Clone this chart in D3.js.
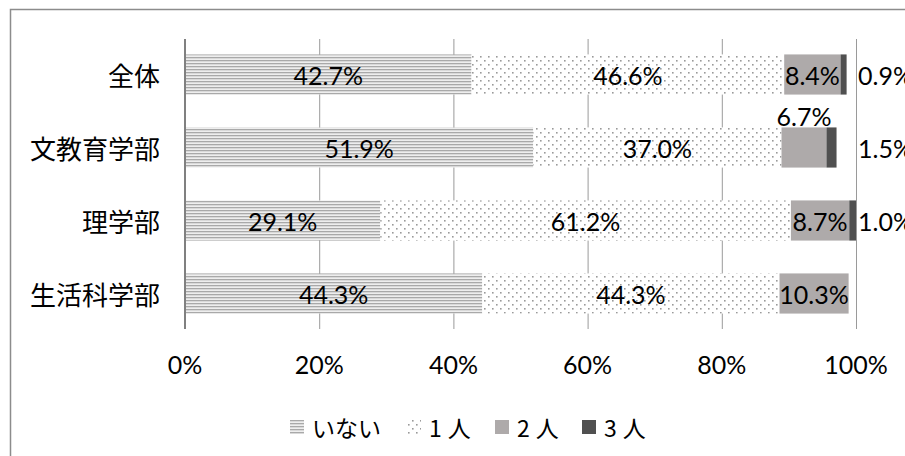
<!DOCTYPE html>
<html><head><meta charset="utf-8">
<script src="https://cdn.jsdelivr.net/npm/d3@7"></script>
<style>body{margin:0;background:#fff;}svg{display:block;}</style>
</head><body>
<svg id="c" width="905" height="456"></svg>
<script>
const categories = ["全体", "文教育学部", "理学部", "生活科学部"];
const seriesNames = ["いない", "1人", "2人", "3人"];
const none = [42.7, 51.9, 29.1, 44.3];
const one = [46.6, 37.0, 61.2, 44.3];
const two = [8.4, 6.7, 8.7, 10.3];
const three = [0.9, 1.5, 1.0, 0];
const tickValues = [0, 20, 40, 60, 80, 100];
const tickLabels = ["0%", "20%", "40%", "60%", "80%", "100%"];

const values = [none, one, two, three];
const svg = d3.select("#c");
const defs = svg.append("defs");
const p1 = defs.append("pattern").attr("id","pNone").attr("patternUnits","userSpaceOnUse").attr("width",6).attr("height",3);
p1.append("rect").attr("width",6).attr("height",3).attr("fill","#eeeeee");
p1.append("rect").attr("y",0).attr("width",6).attr("height",1.3).attr("fill","#a9a9a9");
const p2 = defs.append("pattern").attr("id","pOne").attr("patternUnits","userSpaceOnUse").attr("width",8).attr("height",8);
p2.append("rect").attr("width",8).attr("height",8).attr("fill","#ffffff");
p2.append("rect").attr("x",0).attr("y",0).attr("width",1.6).attr("height",1.6).attr("fill","#9a9a9a");
p2.append("rect").attr("x",4).attr("y",4).attr("width",1.6).attr("height",1.6).attr("fill","#9a9a9a");
const fills = ["url(#pNone)", "url(#pOne)", "#aeaaaa", "#505050"];

svg.append("rect").attr("x",10.5).attr("y",9.5).attr("width",1000).attr("height",1000)
  .attr("fill","none").attr("stroke","#8c8c8c").attr("stroke-width",1.5);

const x = d3.scaleLinear().domain([0,100]).range([185, 856]);
const y = d3.scaleBand().domain(categories).range([38, 330]).paddingInner(0.45).paddingOuter(0.225);

svg.append("g").selectAll("line").data(tickValues.slice(1)).join("line")
  .attr("x1", d=>x(d)+0.5).attr("x2", d=>x(d)+0.5).attr("y1",39).attr("y2",329)
  .attr("stroke","#9a9a9a").attr("stroke-width",1);

const stack = d3.stack().keys(d3.range(4)).value((d,k)=>values[k][d]);
const series = stack(d3.range(categories.length));
const font = "Lato, 'Liberation Sans', sans-serif";
series.forEach((s, k) => {
  svg.append("g").selectAll("rect").data(s).join("rect")
    .attr("x", d=>x(d[0])).attr("width", d=>Math.max(0, x(d[1])-x(d[0])))
    .attr("y", (d,i)=>y(categories[i])).attr("height", y.bandwidth())
    .attr("fill", fills[k]);
});
series.forEach((s, k) => {
  s.forEach((d, i) => {
    const v = values[k][i];
    if (!v) return;
    const txt = v.toFixed(1) + "%";
    const cy = y(categories[i]) + y.bandwidth()/2;
    const t = svg.append("text").text(txt).attr("font-family", font).attr("font-size", 25)
      .attr("fill","#000").attr("dominant-baseline","central");
    if (k === 3) {
      t.attr("x", x(100) + 2).attr("y", cy).attr("text-anchor","start");
    } else {
      const cx = (x(d[0]) + x(d[1]))/2;
      const w = x(d[1]) - x(d[0]);
      t.attr("x", cx).attr("y", cy).attr("text-anchor","middle");
      const tw = t.node().getComputedTextLength();
      if (tw > w + 6) t.attr("y", y(categories[i]) - 11);
    }
  });
});

svg.append("line").attr("x1",185).attr("x2",185).attr("y1",39).attr("y2",329)
  .attr("stroke","#808080").attr("stroke-width",2);

svg.append("g").selectAll("text").data(categories).join("text")
  .attr("x",160).attr("y", d=>y(d)+y.bandwidth()/2).attr("text-anchor","end")
  .attr("dominant-baseline","central").attr("font-family","'Noto Sans CJK JP', sans-serif")
  .attr("font-size",26).attr("fill","#000").text(d=>d);

svg.append("g").selectAll("text").data(tickValues).join("text")
  .attr("x", d=>x(d)).attr("y", 364).attr("text-anchor","middle").attr("dominant-baseline","central")
  .attr("font-family", font).attr("font-size", 25).attr("fill","#000").text((d,i)=>tickLabels[i]);

const legX = [290, 407, 495, 582];
const lg = svg.append("g");
seriesNames.forEach((n, k) => {
  lg.append("rect").attr("x", legX[k]).attr("y", 420).attr("width", 14).attr("height", 14).attr("fill", fills[k]);
  lg.append("text").attr("x", legX[k] + 22).attr("y", 427).attr("dominant-baseline","central")
    .attr("font-family","'Noto Sans CJK JP', sans-serif").attr("font-size",23)
    .attr("letter-spacing", k===0?0:6).attr("fill","#000").text(n);
});
</script>
</body></html>
